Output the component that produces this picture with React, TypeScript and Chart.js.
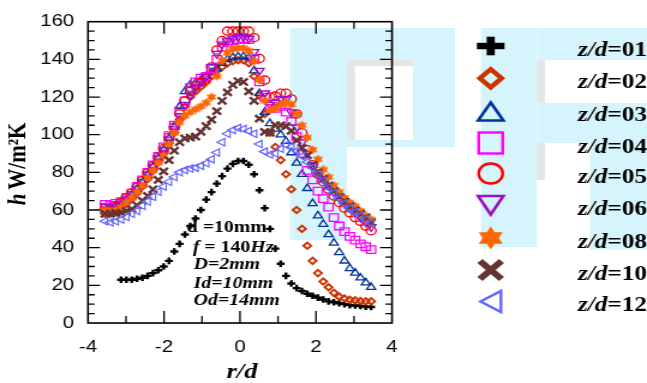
import React, { useEffect, useRef } from 'react';
import { Chart, registerables } from 'chart.js';

Chart.register(...registerables);

// ---------------- data ----------------
const rOverD = [
  -3.55, -3.41, -3.27, -3.13, -2.99, -2.85, -2.71, -2.57, -2.43, -2.29, -2.15, -2.01, -1.87,
  -1.73, -1.59, -1.45, -1.31, -1.17, -1.03, -0.89, -0.75, -0.61, -0.47, -0.33, -0.19, -0.05,
  0.09, 0.23, 0.37, 0.51, 0.65, 0.79, 0.93, 1.07, 1.21, 1.35, 1.49, 1.63, 1.77, 1.91, 2.05,
  2.19, 2.33, 2.47, 2.61, 2.75, 2.89, 3.03, 3.17, 3.31, 3.45,
];

const zd01 = [null, null, null, 23, 23, 23, 23.5, 24, 25, 26.5, 28, 30, 33, 38, 42, 47, 51.5, 55.5, 60, 65.5, 69.5, 74, 78, 82, 84.5, 86, 86, 84, 79, 70.5, 61, 50, 39.5, 31.5, 25, 21, 18.5, 17, 15.5, 14.5, 13.5, 12.5, 11.5, 11, 10.5, 10, 9.5, 9.3, 9, 8.7, 8.5];
const zd02 = [58, 58, 59, 61, 63.5, 66, 69, 72.5, 76.5, 81, 85.5, 90, 95.5, 101, 108, 115, 120, 123, 125.5, 128, 131, 134, 136, 138, 139, 139.5, 139.5, 138, 131, 121, 111, 101, 93.5, 86.5, 79, 71, 60, 50, 41, 33, 26.5, 22, 19, 16, 14, 13, 12.3, 12, 11.7, 11.5, 11.5];
const zd03 = [60, 60, 61, 63, 65.5, 68, 71, 74.5, 78.5, 83, 87.5, 92, 98, 104, 115, 123, 126.5, 127.5, 129, 131, 133, 135, 138, 140, 141, 141.5, 141.5, 141, 134, 122, 112, 106, 103, 100, 96.5, 90.5, 85, 79, 71.5, 63.5, 57, 52.5, 47, 42.5, 37.5, 33, 29, 26.6, 24, 21.4, 19];
const zd04 = [63, 62.5, 63.5, 64.5, 66.5, 69, 72.5, 76, 80, 84, 88.5, 93.5, 99.5, 105, 112.5, 118, 125, 128, 130, 131, 135, 140, 146.5, 149, 150, 150.5, 151, 150.5, 140, 128, 120, 114, 114, 115, 112, 107, 99, 90, 81, 76, 70, 66, 61.5, 56, 51.5, 48.5, 46, 44, 42, 40.5, 39];
const zd05 = [61, 61, 62, 64, 66.5, 69, 72, 75.5, 79.5, 83.5, 88, 92.5, 98.5, 104, 111, 118, 123, 126, 128, 130, 136, 145, 150, 155, 155, 155, 155, 155, 151.5, 140.5, 129, 120, 120.5, 122, 122, 119, 111, 101, 92, 84, 79, 75, 71, 67.5, 64, 61, 58.5, 56, 54, 51.5, 49];
const zd06 = [62, 61, 62, 63.5, 66, 68.5, 71.5, 75, 79, 83, 87.5, 92, 97.5, 103, 110, 116, 121, 125, 128, 131, 136, 143, 148, 150, 151, 152, 152, 151, 144, 134, 122, 116, 117, 119, 119, 112, 104, 96, 90, 84, 80, 76.5, 73, 69.5, 66.5, 63.5, 61, 58.5, 56, 53.5, 51];
const zd08 = [60, 59, 60, 61.5, 64, 66.5, 69.5, 73, 77, 81, 85, 89, 95, 101, 106.5, 110, 112, 113.5, 115, 117, 120, 131, 139.5, 143.5, 145.5, 146, 146, 144.5, 139, 129, 118, 113, 114, 116, 117, 116, 111, 105, 98.5, 92, 87, 81.5, 77.5, 73, 69.5, 66.5, 64, 62, 59.5, 57, 55];
const zd10 = [58, 58, 58.5, 58.5, 59.5, 60.5, 62.5, 65, 67.5, 71, 76, 80.5, 86.5, 91.5, 96, 98, 98.5, 99, 101.5, 104.5, 108, 112.5, 118, 122.5, 126.5, 128.5, 128, 123, 118, 108.5, 101.5, 101, 105, 105, 104.5, 102, 97, 93, 89, 84, 80, 76.5, 73, 70, 67, 64.5, 62, 60, 58, 56, 53.5];
const zd12 = [54, 53.5, 54, 55, 56.3, 58, 59.5, 62.3, 64.5, 67, 69.7, 72.5, 75, 77.5, 80, 81.2, 82, 82.5, 83.5, 84.8, 87, 90.5, 96, 100.5, 102.5, 103.5, 103, 102, 100.5, 95, 91, 89.5, 90, 92.5, 94.5, 93.5, 91.5, 88.5, 85.5, 82.5, 79, 75.5, 72, 69, 66, 63.5, 61, 59, 57, 55, 53];

const seriesKeys = ['01', '02', '03', '04', '05', '06', '08', '10', '12'];
const seriesValues = [zd01, zd02, zd03, zd04, zd05, zd06, zd08, zd10, zd12];
const seriesColors = ['#000000', '#cc3300', '#00349a', '#ff00ff', '#ff0000', '#9a10c8', '#ff6600', '#663333', '#6666ff'];
const markerKinds = ['plus', 'diamond', 'triUp', 'square', 'circle', 'triDown', 'star', 'x', 'triLeft'];

const xTickStep = 2;
const yTickStep = 20;
const xMinorStep = 1;
const yMinorStep = 5;
const xRange = [-4, 4];
const yRange = [0, 160];

const noteLines = [
  [{ t: 'd =10mm', i: false }],
  [{ t: 'f', i: true }, { t: ' = 140', i: false }, { t: 'Hz', i: true }],
  [{ t: 'D=2mm', i: true }],
  [{ t: 'Id=10mm', i: true }],
  [{ t: 'Od=14mm', i: true }],
];
const noteX = [-1.4, -1.24, -1.22, -1.22, -1.22];
const noteY = [48.4, 37.8, 28.8, 18.8, 9.3];

// ---------------- layout ----------------
const FULL_W = 647;
const CW = 539;
const CH = 383;
const SX = FULL_W / CW; // horizontal stretch of the original figure
const PLOT_LEFT = 88 / SX;
const PLOT_RIGHT = 392 / SX;
const PLOT_TOP = 14;
const PLOT_BOTTOM = 323;
const SERIF = '"Liberation Serif", "Times New Roman", serif';
const SANS = '"Liberation Sans", Arial, sans-serif';

function starPath(ctx: CanvasRenderingContext2D, cx: number, cy: number, R: number) {
  ctx.beginPath();
  for (const base of [-Math.PI / 2, Math.PI / 2]) {
    for (let k = 0; k < 3; k++) {
      const a = base + (k * 2 * Math.PI) / 3;
      const px = cx + R * Math.cos(a);
      const py = cy + R * Math.sin(a);
      if (k === 0) ctx.moveTo(px, py);
      else ctx.lineTo(px, py);
    }
    ctx.closePath();
  }
}

function makeStarImage(R: number, color: string) {
  const c = document.createElement('canvas');
  const s = Math.ceil(2 * R + 2);
  c.width = s;
  c.height = s;
  const g = c.getContext('2d')!;
  g.fillStyle = color;
  starPath(g, s / 2, s / 2, R);
  g.fill();
  return c;
}

function poly(ctx: CanvasRenderingContext2D, pts: number[][]) {
  ctx.beginPath();
  pts.forEach((p, k) => (k ? ctx.lineTo(p[0], p[1]) : ctx.moveTo(p[0], p[1])));
  ctx.closePath();
}

function drawLegendMarker(ctx: CanvasRenderingContext2D, kind: string, cx: number, cy: number, color: string) {
  ctx.save();
  ctx.strokeStyle = color;
  ctx.fillStyle = color;
  ctx.lineJoin = 'miter';
  switch (kind) {
    case 'plus':
      ctx.fillRect(cx - 11.5, cy - 3.2, 23, 6.4);
      ctx.fillRect(cx - 3.4, cy - 9.3, 6.8, 18.6);
      break;
    case 'diamond':
      ctx.lineWidth = 4.4;
      poly(ctx, [[cx, cy - 9], [cx + 9, cy], [cx, cy + 9], [cx - 9, cy]]);
      ctx.stroke();
      break;
    case 'triUp':
      ctx.lineWidth = 2.6;
      poly(ctx, [[cx, cy - 8.5], [cx + 10.5, cy + 9.5], [cx - 10.5, cy + 9.5]]);
      ctx.stroke();
      break;
    case 'square':
      ctx.lineWidth = 2.4;
      ctx.strokeRect(cx - 10, cy - 10.5, 20, 21);
      break;
    case 'circle':
      ctx.lineWidth = 2.4;
      ctx.beginPath();
      ctx.arc(cx, cy, 10, 0, Math.PI * 2);
      ctx.stroke();
      break;
    case 'triDown':
      ctx.lineWidth = 2.6;
      poly(ctx, [[cx - 10.5, cy - 9.5], [cx + 10.5, cy - 9.5], [cx, cy + 9]]);
      ctx.stroke();
      break;
    case 'star':
      starPath(ctx, cx, cy, 11.5);
      ctx.fill();
      break;
    case 'x':
      ctx.lineWidth = 6;
      ctx.beginPath();
      ctx.moveTo(cx - 9, cy - 9);
      ctx.lineTo(cx + 9, cy + 9);
      ctx.moveTo(cx + 9, cy - 9);
      ctx.lineTo(cx - 9, cy + 9);
      ctx.stroke();
      break;
    case 'triLeft':
      ctx.lineWidth = 2.4;
      poly(ctx, [[cx + 8.5, cy - 10.5], [cx + 8.5, cy + 10.5], [cx - 8.5, cy]]);
      ctx.stroke();
      break;
  }
  ctx.restore();
}

const watermarkPlugin = {
  id: 'watermark',
  beforeDraw(chart: any) {
    const ctx = chart.ctx as CanvasRenderingContext2D;
    const cyan = '#d6f4fb';
    const shade = '#e4e6e6';
    const R = (x0: number, y0: number, x1: number, y1: number, c: string) => {
      ctx.fillStyle = c;
      ctx.fillRect(x0 / SX, y0, (x1 - x0) / SX, y1 - y0);
    };
    ctx.save();
    // first letter
    R(290, 28, 347, 240, cyan);
    R(347, 28, 455, 147, cyan);
    R(347, 60, 413, 140, '#ffffff');
    R(347, 60, 355, 140, shade);
    R(347, 60, 413, 66, shade);
    // second letter
    R(481, 28, 537, 247, cyan);
    R(537, 28, 647, 60, cyan);
    R(537, 103, 647, 143, cyan);
    R(590, 143, 647, 250, cyan);
    R(537, 60, 545, 103, shade);
    R(537, 143, 545, 180, shade);
    ctx.restore();
  },
};

const decorPlugin = {
  id: 'decor',
  afterDraw(chart: any) {
    const ctx = chart.ctx as CanvasRenderingContext2D;
    const xs = chart.scales.x;
    const ys = chart.scales.y;
    const { left, right, top, bottom } = chart.chartArea;
    ctx.save();
    // frame
    ctx.strokeStyle = '#000';
    ctx.lineWidth = 1.6;
    ctx.strokeRect(left, top, right - left, bottom - top);
    // inward ticks
    ctx.lineWidth = 1.3;
    ctx.beginPath();
    for (let v = xRange[0] + xMinorStep; v < xRange[1]; v += xMinorStep) {
      const px = xs.getPixelForValue(v);
      const len = v % xTickStep === 0 ? 12 : 7;
      ctx.moveTo(px, top);
      ctx.lineTo(px, top + len);
      ctx.moveTo(px, bottom);
      ctx.lineTo(px, bottom - len);
    }
    for (let v = yRange[0] + yMinorStep; v < yRange[1]; v += yMinorStep) {
      const py = ys.getPixelForValue(v);
      const len = v % yTickStep === 0 ? 10 : 5.5;
      ctx.moveTo(left, py);
      ctx.lineTo(left + len, py);
      ctx.moveTo(right, py);
      ctx.lineTo(right - len, py);
    }
    ctx.stroke();

    // annotation text
    ctx.fillStyle = '#000';
    ctx.textBaseline = 'alphabetic';
    ctx.textAlign = 'left';
    noteLines.forEach((segs, k) => {
      let x = xs.getPixelForValue(noteX[k]);
      const y = ys.getPixelForValue(noteY[k]);
      segs.forEach((s) => {
        ctx.font = `${s.i ? 'italic ' : ''}bold 16.5px ${SERIF}`;
        ctx.fillText(s.t, x, y);
        x += ctx.measureText(s.t).width;
      });
    });

    // x title
    ctx.font = `italic bold 22px ${SERIF}`;
    ctx.textAlign = 'center';
    ctx.fillText('r/d', 242 / SX, 378);

    // y title (rotated)
    ctx.save();
    ctx.translate(20.5, 164);
    ctx.rotate(-Math.PI / 2);
    ctx.textAlign = 'left';
    ctx.font = `italic bold 21px ${SERIF}`;
    const wh = ctx.measureText('h').width;
    ctx.font = `bold 21px ${SERIF}`;
    const rest = 'W/m\u00B2K';
    const wr = ctx.measureText(rest).width;
    const gap = 4;
    const total = wh + gap + wr;
    ctx.font = `italic bold 21px ${SERIF}`;
    ctx.fillText('h', -total / 2, 0);
    ctx.font = `bold 21px ${SERIF}`;
    ctx.fillText(rest, -total / 2 + wh + gap, 0);
    ctx.restore();

    // legend
    const legX = 490.7 / SX;
    const textX = 578 / SX;
    const legY = [46, 78.3, 111, 143, 173.5, 205.5, 238, 270, 301.5];
    seriesKeys.forEach((key, k) => {
      drawLegendMarker(ctx, markerKinds[k], legX, legY[k], seriesColors[k]);
      ctx.fillStyle = '#000';
      ctx.textAlign = 'left';
      ctx.font = `italic bold 21px ${SERIF}`;
      ctx.fillText('z/d', textX, legY[k] + 9.5);
      const w = ctx.measureText('z/d').width;
      ctx.font = `bold 21px ${SERIF}`;
      ctx.fillText('=' + key, textX + w, legY[k] + 9.5);
    });
    ctx.restore();
  },
};

export default function App() {
  const ref = useRef<HTMLCanvasElement>(null);

  useEffect(() => {
    document.body.style.margin = '0';
    const canvas = ref.current!;
    const starImg = makeStarImage(4.8, seriesColors[6]);
    const styleFor = (kind: string) => {
      switch (kind) {
        case 'plus': return { pointStyle: 'cross', r: 3.3, bw: 2.4, rot: 0, fill: false };
        case 'diamond': return { pointStyle: 'rectRot', r: 3.2, bw: 1.9, rot: 0, fill: false };
        case 'triUp': return { pointStyle: 'triangle', r: 4.3, bw: 1.3, rot: 0, fill: false };
        case 'square': return { pointStyle: 'rect', r: 5.3, bw: 1.3, rot: 0, fill: false };
        case 'circle': return { pointStyle: 'circle', r: 4.1, bw: 1.3, rot: 0, fill: false };
        case 'triDown': return { pointStyle: 'triangle', r: 4.5, bw: 1.3, rot: 180, fill: false };
        case 'star': return { pointStyle: starImg as any, r: 4.8, bw: 0, rot: 0, fill: true };
        case 'x': return { pointStyle: 'crossRot', r: 5, bw: 2.4, rot: 0, fill: false };
        default: return { pointStyle: 'triangle', r: 4.3, bw: 1.2, rot: -90, fill: false };
      }
    };
    const datasets = seriesKeys.map((key, i) => {
      const st = styleFor(markerKinds[i]);
      const pts = rOverD
        .map((r, k) => ({ x: r, y: seriesValues[i][k] as number | null }))
        .filter((p) => p.y !== null);
      return {
        label: 'z/d=' + key,
        data: pts,
        showLine: false,
        pointStyle: st.pointStyle,
        pointRadius: st.r,
        pointHoverRadius: st.r,
        pointBorderWidth: st.bw,
        pointRotation: st.rot,
        pointBorderColor: seriesColors[i],
        pointBackgroundColor: st.fill ? seriesColors[i] : 'rgba(0,0,0,0)',
        borderColor: seriesColors[i],
        backgroundColor: st.fill ? seriesColors[i] : 'rgba(0,0,0,0)',
        order: seriesKeys.length - i,
      };
    });

    const chart = new Chart(canvas, {
      type: 'scatter',
      data: { datasets: datasets as any },
      options: {
        animation: false,
        responsive: false,
        maintainAspectRatio: false,
        devicePixelRatio: 1,
        events: [],
        layout: { padding: { left: 0, right: CW - PLOT_RIGHT, top: PLOT_TOP, bottom: 0 } },
        plugins: { legend: { display: false }, tooltip: { enabled: false }, title: { display: false } },
        scales: {
          x: {
            type: 'linear',
            min: xRange[0],
            max: xRange[1],
            grid: { display: false, drawTicks: false },
            border: { display: false },
            ticks: {
              stepSize: xTickStep,
              color: '#000',
              padding: 14,
              maxRotation: 0,
              font: { family: SANS, size: 17 },
            },
            afterFit: (s: any) => {
              s.height = CH - PLOT_BOTTOM;
            },
          },
          y: {
            type: 'linear',
            min: yRange[0],
            max: yRange[1],
            grid: { display: false, drawTicks: false },
            border: { display: false },
            ticks: {
              stepSize: yTickStep,
              color: '#000',
              padding: 11.5,
              font: { family: SANS, size: 17 },
            },
            afterFit: (s: any) => {
              s.width = PLOT_LEFT;
            },
          },
        },
      },
      plugins: [watermarkPlugin, decorPlugin],
    });
    return () => chart.destroy();
  }, []);

  return (
    <div style={{ width: FULL_W, height: CH, overflow: 'hidden', background: '#fff' }}>
      <div style={{ width: CW, height: CH, transform: `scaleX(${SX})`, transformOrigin: '0 0' }}>
        <canvas ref={ref} width={CW} height={CH} style={{ width: CW, height: CH, display: 'block' }} />
      </div>
    </div>
  );
}
